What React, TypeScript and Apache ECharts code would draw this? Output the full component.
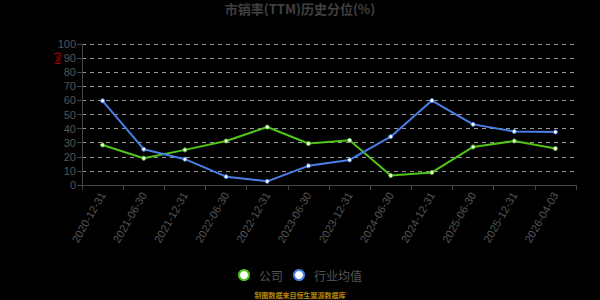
import React, { useEffect, useRef } from "react";
import * as echarts from "echarts";

const categories = [
  "2020-12-31", "2021-06-30", "2021-12-31", "2022-06-30", "2022-12-31", "2023-06-30",
  "2023-12-31", "2024-06-30", "2024-12-31", "2025-06-30", "2025-12-31", "2026-04-03",
];
const companyValues = [28.4, 19.0, 24.9, 31.2, 41.1, 29.4, 31.7, 6.8, 8.9, 27.0, 31.2, 25.9];
const industryValues = [59.7, 25.4, 18.3, 5.9, 2.6, 13.6, 17.8, 34.3, 59.9, 43.0, 38.0, 37.6];
const yTicks = { min: 0, max: 100, interval: 10 };

export default function App() {
  const ref = useRef<HTMLDivElement>(null);
  useEffect(() => {
    const chart = echarts.init(ref.current!, null, { renderer: "svg" });
    chart.setOption({
      animation: false,
      backgroundColor: "#000",
      title: {
        text: "市销率(TTM)历史分位(%)",
        left: "center",
        top: -3,
        textStyle: { color: "#404040", fontSize: 13, fontWeight: "bold", fontFamily: "Noto Sans CJK SC" },
      },
      graphic: [
        {
          type: "text",
          x: 62,
          y: 52,
          rotation: -Math.PI / 2,
          style: { text: "(%)", fill: "#b00000", font: "bold 8px sans-serif" },
        },
        {
          type: "text",
          left: "center",
          top: 291,
          style: { text: "制图数据来自恒生聚源数据库", fill: "#b8860b", font: "bold 7px 'Noto Sans CJK SC'" },
        },
      ],
      legend: {
        top: 264,
        left: "center",
        itemWidth: 20,
        itemHeight: 10,
        itemGap: 10,
        textStyle: { color: "#555", fontSize: 12, fontFamily: "Noto Sans CJK SC" },
        data: [
          { name: "公司", icon: "circle" },
          { name: "行业均值", icon: "circle" },
        ],
      },
      grid: { left: 82, right: 24, top: 44, bottom: 115 },
      xAxis: {
        type: "category",
        data: categories,
        boundaryGap: true,
        axisLine: { lineStyle: { color: "#444" } },
        axisTick: { show: true, lineStyle: { color: "#444" } },
        axisLabel: { color: "#555", fontSize: 11, rotate: 60, interval: 0, margin: 8 },
      },
      yAxis: {
        type: "value",
        min: yTicks.min,
        max: yTicks.max,
        interval: yTicks.interval,
        axisLine: { show: true, lineStyle: { color: "#444" } },
        axisTick: { show: true, lineStyle: { color: "#444" } },
        axisLabel: { color: "#555", fontSize: 11, margin: 6 },
        splitLine: { lineStyle: { color: "#999", type: [4, 4] } },
      },
      series: [
        {
          name: "公司",
          type: "line",
          data: companyValues,
          symbol: "circle",
          symbolSize: 4,
          lineStyle: { color: "#52c41a", width: 2 },
          itemStyle: { color: "#fff", borderColor: "#52c41a", borderWidth: 1 },
        },
        {
          name: "行业均值",
          type: "line",
          data: industryValues,
          symbol: "circle",
          symbolSize: 4,
          lineStyle: { color: "#4a7fe8", width: 2 },
          itemStyle: { color: "#fff", borderColor: "#4a7fe8", borderWidth: 1 },
        },
      ],
    });
    return () => chart.dispose();
  }, []);
  return <div ref={ref} style={{ position: "fixed", left: 0, top: 0, width: 600, height: 300 }} />;
}
